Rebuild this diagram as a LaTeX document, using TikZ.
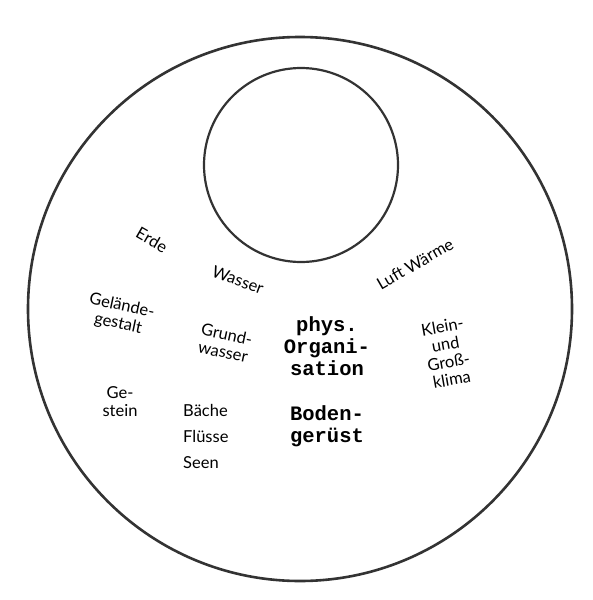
\documentclass[tikz,border=0pt]{standalone}
\usepackage{fontspec}
\setmainfont{Lato}
\newfontfamily\slabfont{Liberation Mono}
\usetikzlibrary{positioning}
\definecolor{ink}{RGB}{51,51,51}

\begin{document}
\begin{tikzpicture}[x=1pt,y=-1pt,
  ring/.style={draw=ink,line width=2.6pt},
  word/.style={font=\fontsize{16.5}{18}\selectfont,align=center,inner sep=0pt},
  core/.style={font=\slabfont\bfseries\fontsize{20.5}{22}\selectfont,align=center,inner sep=0pt}]
\useasboundingbox (0,0) rectangle (592,600);

% outer circle and inner circle
\draw[ring] (300,309) circle[radius=272];
\draw[ring,line width=2.2pt] (301,165) circle[radius=97];

% words round the inner circle
\node[word,rotate=-30] (erde) at (152,240) {Erde};
\node[word,rotate=-20] (wasser) at (238,280) {Wasser};
\node[word,rotate=30] (luft) at (415,264) {Luft Wärme};

% second ring of words
\node[word,rotate=-12] (gelaende) at (120,315) {Gelände-\\gestalt};
\node[word,rotate=-12] (grund) at (225,343) {Grund-\\wasser};
\node[word,rotate=10] (klima) at (447,353) {Klein-\\und\\Groß-\\klima};

% lower words
\node[word] (gestein) at (120,402) {Ge-\\stein};
\node[word,align=left,font=\fontsize{16.5}{26}\selectfont,anchor=north west] (baeche) at (183,404) {Bäche\\Flüsse\\Seen};

% centre
\node[core] (phys) at (327,346) {phys.\\Organi-\\sation};
\node[core] (boden) at (327,426) {Boden-\\gerüst};
\end{tikzpicture}
\end{document}
